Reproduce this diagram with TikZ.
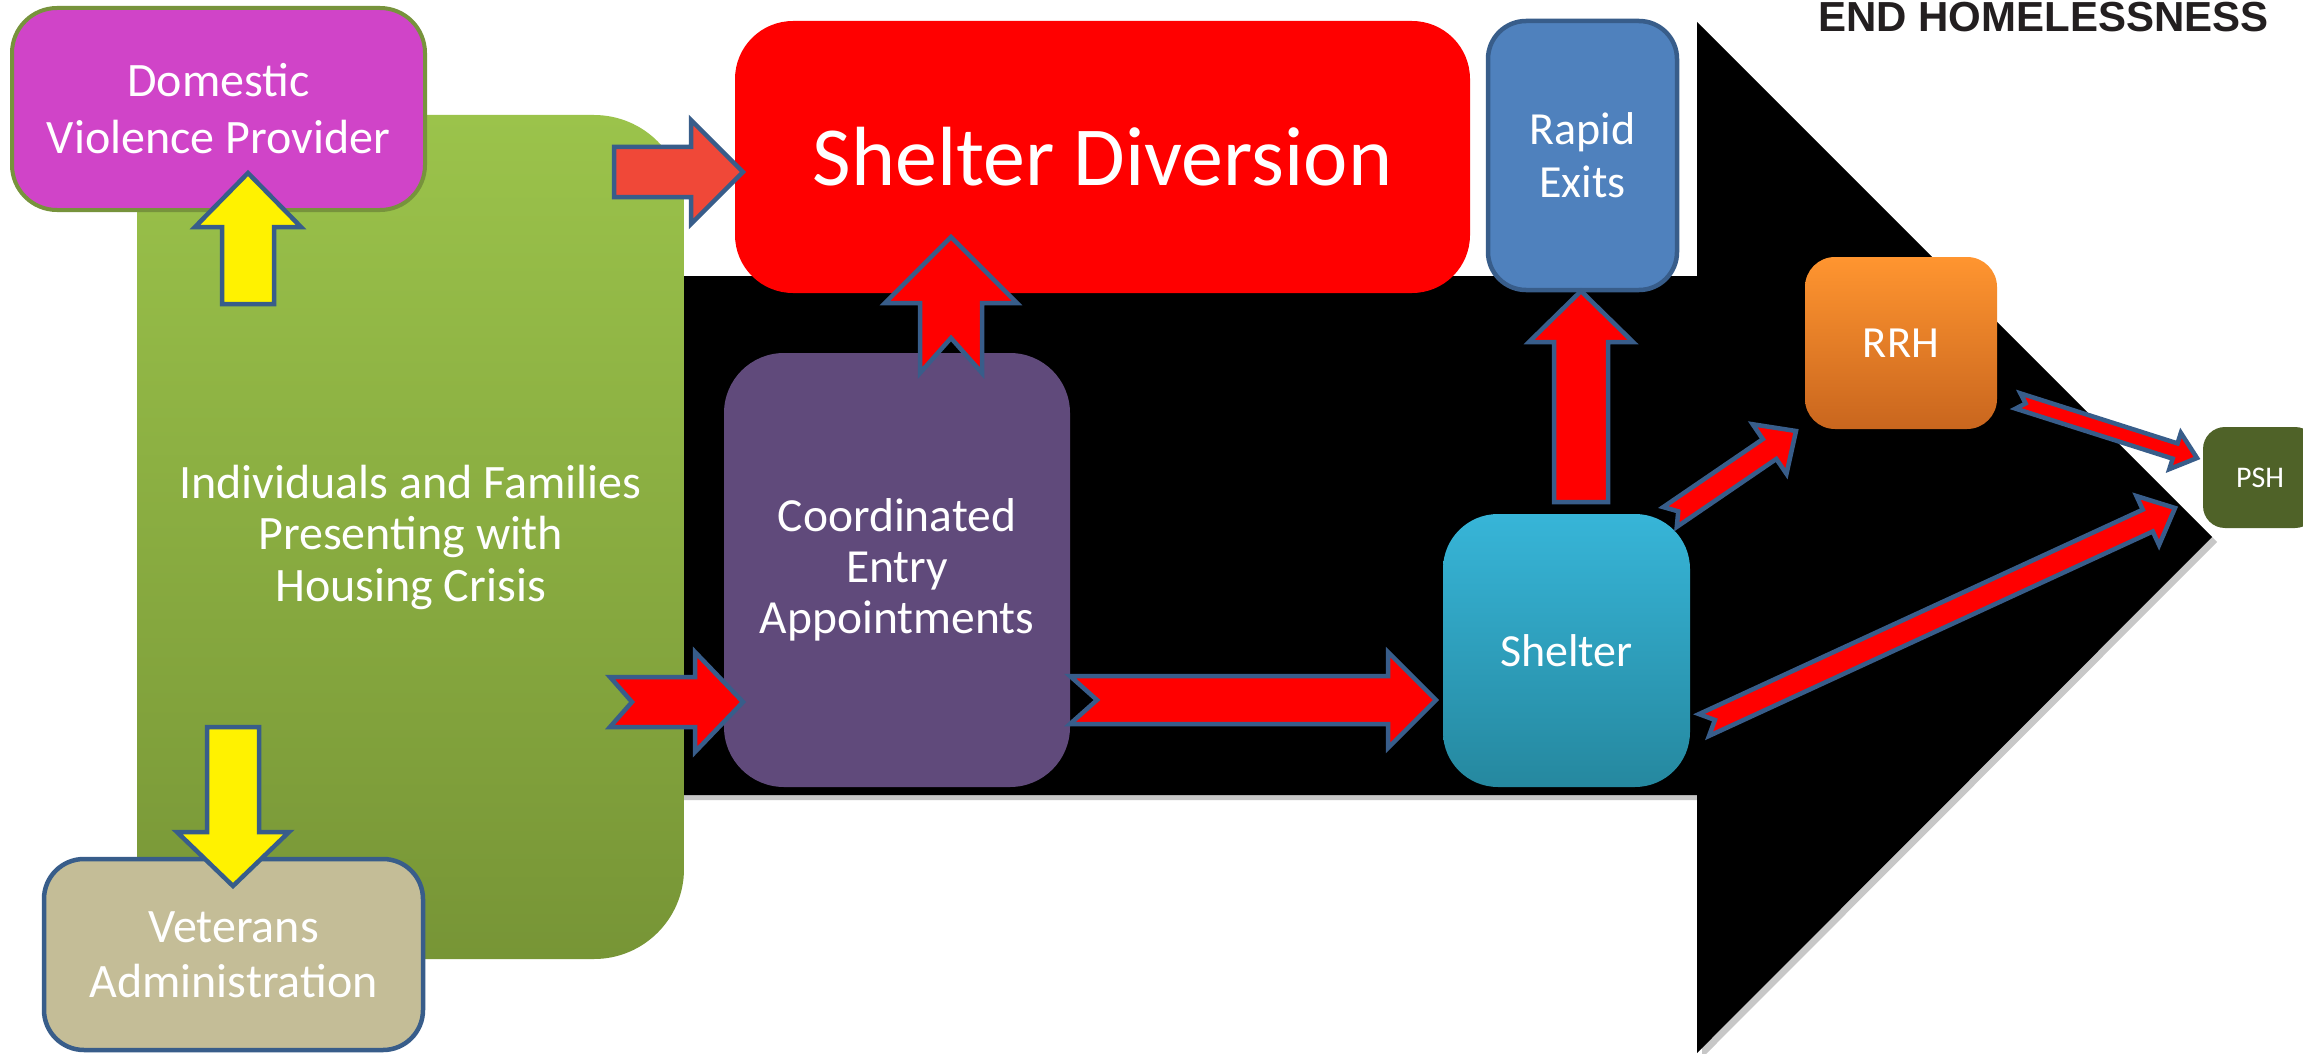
\documentclass[tikz,border=0pt]{standalone}
\usepackage{fontspec}
\setmainfont{Carlito}
\newfontfamily\logofont{Liberation Sans}
\usetikzlibrary{calc}
\definecolor{abord}{RGB}{56,93,138}
\definecolor{dvfill}{RGB}{208,68,200}
\definecolor{dvbord}{RGB}{119,147,60}
\definecolor{greentop}{RGB}{155,195,75}
\definecolor{greenbot}{RGB}{119,149,54}
\definecolor{vafill}{RGB}{196,189,151}
\definecolor{refill}{RGB}{79,129,189}
\definecolor{cefill}{RGB}{96,74,123}
\definecolor{sheltop}{RGB}{55,181,216}
\definecolor{shelbot}{RGB}{37,136,159}
\definecolor{rrhtop}{RGB}{255,149,48}
\definecolor{rrhbot}{RGB}{201,102,30}
\definecolor{pshfill}{RGB}{79,98,40}
\definecolor{tomato}{RGB}{240,72,56}
\definecolor{logoc}{RGB}{35,31,32}
\tikzset{
  boxtext/.style={text=white, align=center, inner sep=0pt, font=\fontsize{47}{52}\selectfont},
  blockarr/.style={draw=abord, line width=4.5pt, line join=miter},
}
% #1 fill, #2 tail, #3 tip, #4 shaft half width, #5 head half width, #6 head length, #7 notch depth
\newcommand\blockarrow[7]{%
  \draw[blockarr, fill=#1]
    ($(#2)!#4!90:(#3)$) --
    ($(#3)!#6!(#2)!#4!90:(#3)$) --
    ($(#3)!#6!(#2)!#5!90:(#3)$) --
    (#3) --
    ($(#3)!#6!(#2)!#5!-90:(#3)$) --
    ($(#3)!#6!(#2)!#4!-90:(#3)$) --
    ($(#2)!#4!-90:(#3)$) --
    ($(#2)!#7!(#3)$) -- cycle;}
\begin{document}
\begin{tikzpicture}[x=1pt,y=-1pt]
\useasboundingbox (0,0) rectangle (2303,1054);
\fill[white] (0,0) rectangle (2303,1054);
% big black arrow
\fill[black!22] (653,281) -- (1702,281) -- (1702,27) -- (2217,542) -- (1702,1058) -- (1702,800) -- (653,800) -- cycle;
\fill[black] (650,276) -- (1697,276) -- (1697,22) -- (2212,537) -- (1697,1053) -- (1697,795) -- (650,795) -- cycle;
% logo text
\node[anchor=base west, inner sep=0pt, text=logoc, font=\logofont\bfseries\fontsize{42}{42}\selectfont] (logo) at (1818,32) {END HOMELESSNESS};
% boxes
\node[boxtext, minimum width=547pt, minimum height=844pt, rounded corners=90pt, top color=greentop, bottom color=greenbot, font=\fontsize{48}{51.5}\selectfont] (green) at (410.5,537) {Individuals and Families\\Presenting with\\Housing Crisis};
\node[boxtext, minimum width=413pt, minimum height=202pt, rounded corners=45pt, fill=dvfill, draw=dvbord, line width=4pt, font=\fontsize{48}{57}\selectfont] (dv) at (218.5,109) {Domestic\\Violence Provider};
\node[boxtext, minimum width=379pt, minimum height=191pt, rounded corners=40pt, fill=vafill, draw=abord, line width=4.5pt, font=\fontsize{48}{55}\selectfont] (va) at (233.5,954.5) {Veterans\\Administration};
\node[boxtext, minimum width=735pt, minimum height=272pt, rounded corners=58pt, fill=red, font=\fontsize{84}{90}\selectfont] (sd) at (1102.5,157) {Shelter Diversion};
\node[boxtext, minimum width=189pt, minimum height=269pt, rounded corners=38pt, fill=refill, draw=abord, line width=4.5pt, font=\fontsize{46}{53}\selectfont] (re) at (1582.5,155.5) {Rapid\\Exits};
\node[boxtext, minimum width=346pt, minimum height=434pt, rounded corners=60pt, fill=cefill, font=\fontsize{47.5}{51}\selectfont] (ce) at (897,570) {Coordinated\\Entry\\Appointments};
\node[boxtext, minimum width=247pt, minimum height=273pt, rounded corners=55pt, top color=sheltop, bottom color=shelbot, font=\fontsize{46}{50}\selectfont] (shelter) at (1566.5,650.5) {Shelter};
\node[boxtext, minimum width=192pt, minimum height=172pt, rounded corners=30pt, top color=rrhtop, bottom color=rrhbot, font=\fontsize{44.5}{50}\selectfont] (rrh) at (1901,343) {RRH};
\node[boxtext, minimum width=114pt, minimum height=101pt, rounded corners=22pt, fill=pshfill, font=\fontsize{30}{34}\selectfont] (psh) at (2260,477.5) {PSH};
% arrow end points
\coordinate (g2dvT) at (248,304);   \coordinate (g2dvH) at (248,173);
\coordinate (g2vaT) at (233,727);   \coordinate (g2vaH) at (233,886);
\coordinate (g2sdT) at (614,172);   \coordinate (g2sdH) at (743,172);
\coordinate (g2ceT) at (610,702);   \coordinate (g2ceH) at (743,702);
\coordinate (ce2shT) at (1070,700); \coordinate (ce2shH) at (1436,700);
\coordinate (ce2sdT) at (951,373);  \coordinate (ce2sdH) at (951,237);
\coordinate (sh2reT) at (1581,502); \coordinate (sh2reH) at (1581,291);
\coordinate (sh2rrT) at (1670,517); \coordinate (sh2rrH) at (1796,431);
\coordinate (sh2psT) at (1704,725); \coordinate (sh2psH) at (2175,508);
\coordinate (rr2psT) at (2018,401); \coordinate (rr2psH) at (2197,458);
% arrows
\blockarrow{yellow}{g2dvT}{g2dvH}{26pt}{53pt}{54pt}{0pt}
\blockarrow{yellow}{g2vaT}{g2vaH}{26pt}{56pt}{54pt}{0pt}
\blockarrow{tomato}{g2sdT}{g2sdH}{25pt}{52pt}{52pt}{0pt}
\blockarrow{red}{g2ceT}{g2ceH}{25pt}{50pt}{48pt}{22pt}
\blockarrow{red}{ce2shT}{ce2shH}{24pt}{48pt}{48pt}{27pt}
\blockarrow{red}{ce2sdT}{ce2sdH}{31pt}{66pt}{66pt}{35pt}
\blockarrow{red}{sh2reT}{sh2reH}{27pt}{52pt}{51pt}{0pt}
\blockarrow{red}{sh2rrT}{sh2rrH}{12pt}{30pt}{32pt}{10pt}
\blockarrow{red}{sh2psT}{sh2psH}{12pt}{27pt}{30pt}{12pt}
\blockarrow{red}{rr2psT}{rr2psH}{8pt}{19pt}{23pt}{8pt}
\end{tikzpicture}
\end{document}
